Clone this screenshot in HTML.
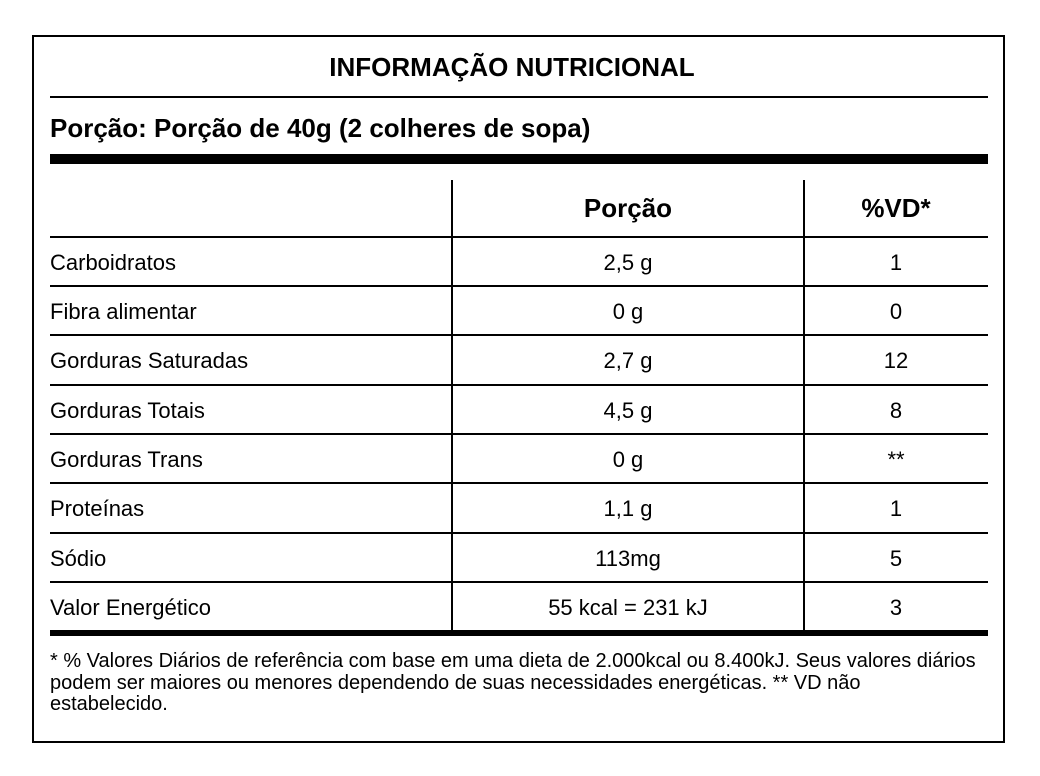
<!DOCTYPE html>
<html>
<head>
<meta charset="utf-8">
<style>
  html, body { margin:0; padding:0; background:#fff; }
  body { width:1040px; height:776px; position:relative; overflow:hidden;
         font-family:"Liberation Sans", Arial, sans-serif; color:#000; }
  .box { position:absolute; left:32px; top:35px; width:973px; height:708px;
         box-sizing:border-box; border:2px solid #000; }
  .ln { position:absolute; background:#000; }
  .t { position:absolute; white-space:nowrap; }
  .b26 { font-size:26px; line-height:26px; font-weight:bold; }
  .r22 { font-size:22px; line-height:22px; }
  .c1 { left:452px; width:352px; text-align:center; }
  .c2 { left:804px; width:184px; text-align:center; }
  .c0 { left:50px; }
  .foot { position:absolute; left:50px; top:651px; font-size:20px; line-height:21.5px; white-space:nowrap; }
</style>
</head>
<body>
<div class="box"></div>

<div class="t b26" style="left:212px;width:600px;text-align:center;top:54px;">INFORMAÇÃO NUTRICIONAL</div>
<div class="ln" style="left:50px;width:938px;top:96px;height:1.5px;"></div>
<div class="t b26" style="left:50px;top:115px;">Porção: Porção de 40g (2 colheres de sopa)</div>
<div class="ln" style="left:50px;width:938px;top:154px;height:10px;"></div>

<!-- column separators -->
<div class="ln" style="left:451px;width:2px;top:180px;height:450px;"></div>
<div class="ln" style="left:803px;width:2px;top:180px;height:450px;"></div>

<!-- header -->
<div class="t b26 c1" style="top:195px;">Porção</div>
<div class="t b26 c2" style="top:195px;">%VD*</div>

<!-- row lines -->
<div class="ln" style="left:50px;width:938px;top:236px;height:2px;"></div>
<div class="ln" style="left:50px;width:938px;top:285px;height:2px;"></div>
<div class="ln" style="left:50px;width:938px;top:334px;height:2px;"></div>
<div class="ln" style="left:50px;width:938px;top:384px;height:2px;"></div>
<div class="ln" style="left:50px;width:938px;top:433px;height:2px;"></div>
<div class="ln" style="left:50px;width:938px;top:482px;height:2px;"></div>
<div class="ln" style="left:50px;width:938px;top:532px;height:2px;"></div>
<div class="ln" style="left:50px;width:938px;top:581px;height:2px;"></div>
<div class="ln" style="left:50px;width:938px;top:630px;height:6px;"></div>

<!-- rows -->
<div class="t r22 c0" style="top:251.5px;">Carboidratos</div>
<div class="t r22 c1" style="top:251.5px;">2,5 g</div>
<div class="t r22 c2" style="top:251.5px;">1</div>

<div class="t r22 c0" style="top:300.5px;">Fibra alimentar</div>
<div class="t r22 c1" style="top:300.5px;">0 g</div>
<div class="t r22 c2" style="top:300.5px;">0</div>

<div class="t r22 c0" style="top:349.5px;">Gorduras Saturadas</div>
<div class="t r22 c1" style="top:349.5px;">2,7 g</div>
<div class="t r22 c2" style="top:349.5px;">12</div>

<div class="t r22 c0" style="top:399.5px;">Gorduras Totais</div>
<div class="t r22 c1" style="top:399.5px;">4,5 g</div>
<div class="t r22 c2" style="top:399.5px;">8</div>

<div class="t r22 c0" style="top:448.5px;">Gorduras Trans</div>
<div class="t r22 c1" style="top:448.5px;">0 g</div>
<div class="t r22 c2" style="top:448.5px;">**</div>

<div class="t r22 c0" style="top:497.5px;">Proteínas</div>
<div class="t r22 c1" style="top:497.5px;">1,1 g</div>
<div class="t r22 c2" style="top:497.5px;">1</div>

<div class="t r22 c0" style="top:547.5px;">Sódio</div>
<div class="t r22 c1" style="top:547.5px;">113mg</div>
<div class="t r22 c2" style="top:547.5px;">5</div>

<div class="t r22 c0" style="top:596.5px;">Valor Energético</div>
<div class="t r22 c1" style="top:596.5px;">55 kcal = 231 kJ</div>
<div class="t r22 c2" style="top:596.5px;">3</div>

<div class="foot">* % Valores Diários de referência com base em uma dieta de 2.000kcal ou 8.400kJ. Seus valores diários<br>podem ser maiores ou menores dependendo de suas necessidades energéticas. ** VD não<br>estabelecido.</div>
</body>
</html>
